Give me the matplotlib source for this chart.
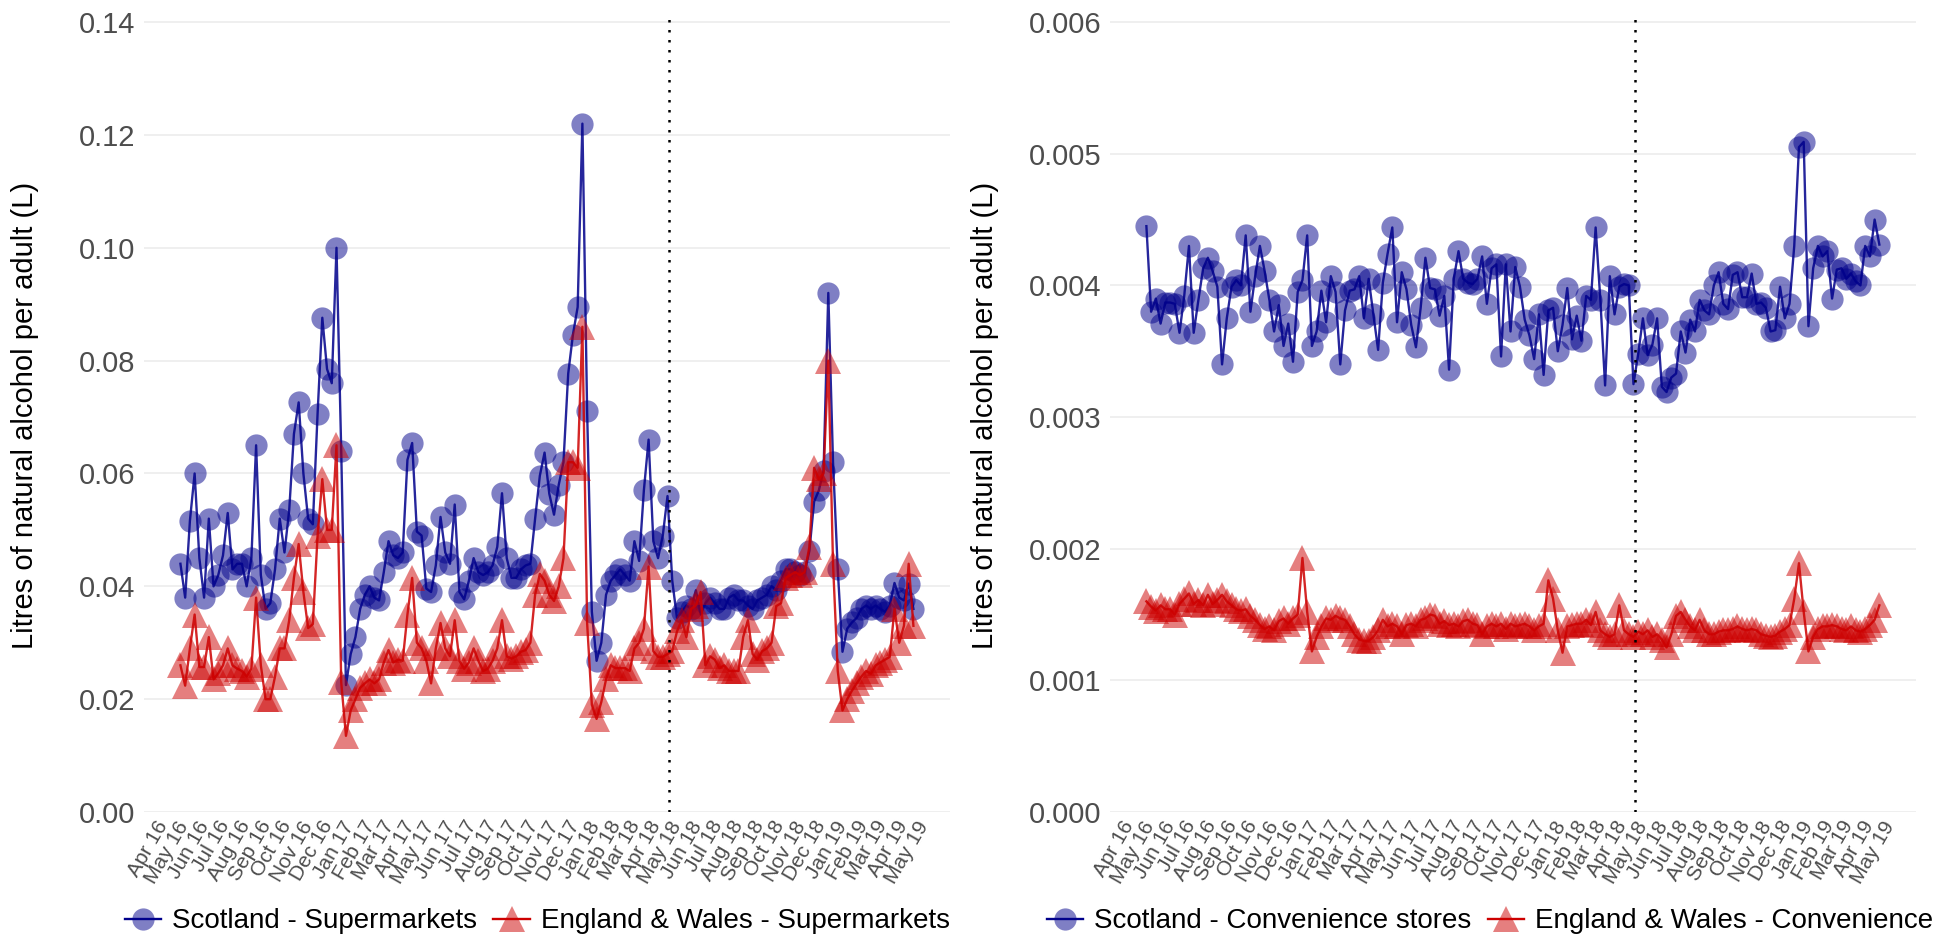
import numpy as np
import pandas as pd
import matplotlib
matplotlib.use("Agg")
import matplotlib.pyplot as plt
from matplotlib.lines import Line2D
from matplotlib.ticker import FormatStrFormatter

plt.rcParams['font.family'] = ['Liberation Sans', 'DejaVu Sans']

# weekly sales, first week starting 8 May 2016
weeks = pd.date_range('2016-05-08', periods=156, freq='7D')
mup_date = pd.Timestamp('2018-05-01')
month_ticks = pd.date_range('2016-04-01', '2019-05-01', freq='MS')
month_labels = [d.strftime('%b %y') for d in month_ticks]

scot_super = [
    0.044, 0.038, 0.0516, 0.060, 0.045, 0.038, 0.052, 0.040, 0.042, 0.0455,
    0.053, 0.043, 0.044, 0.044, 0.040, 0.045, 0.065, 0.042, 0.036, 0.037,
    0.043, 0.052, 0.046, 0.0535, 0.067, 0.0726, 0.060, 0.052, 0.051, 0.0706,
    0.0876, 0.0785, 0.076, 0.100, 0.064, 0.0225, 0.028, 0.031, 0.036, 0.0385,
    0.040, 0.038, 0.0375, 0.0425, 0.048, 0.0455, 0.045, 0.046, 0.0624, 0.0654,
    0.0497, 0.049, 0.0396, 0.039, 0.0437, 0.0523, 0.046, 0.044, 0.0545, 0.039,
    0.0377, 0.041, 0.045, 0.0425, 0.042, 0.0425, 0.0437, 0.047, 0.0565, 0.045,
    0.0415, 0.0415, 0.043, 0.0437, 0.044, 0.052, 0.0596, 0.0637, 0.0564, 0.0527,
    0.058, 0.062, 0.0777, 0.0846, 0.0895, 0.122, 0.071, 0.0355, 0.0268, 0.030,
    0.0385, 0.041, 0.042, 0.043, 0.042, 0.041, 0.048, 0.0445, 0.057, 0.066,
    0.048, 0.045, 0.049, 0.056, 0.041, 0.0344, 0.0355, 0.0366, 0.036, 0.0393,
    0.035, 0.037, 0.038, 0.037, 0.036, 0.036, 0.038, 0.0385, 0.0375, 0.0375,
    0.0366, 0.036, 0.0375, 0.038, 0.0385, 0.040, 0.0393, 0.041, 0.043, 0.043,
    0.0425, 0.042, 0.0425, 0.0463, 0.055, 0.057, 0.0605, 0.092, 0.062, 0.043,
    0.0284, 0.0325, 0.0336, 0.0344, 0.036, 0.0366, 0.036, 0.0366, 0.036, 0.0355,
    0.0366, 0.0406, 0.038, 0.0375, 0.0405, 0.036,
]

ew_super = [
    0.026, 0.0224, 0.029, 0.035, 0.0257, 0.0257, 0.031, 0.0235, 0.0246, 0.026,
    0.029, 0.026, 0.0254, 0.025, 0.024, 0.0254, 0.038, 0.026, 0.020, 0.020,
    0.024, 0.029, 0.029, 0.034, 0.0415, 0.0475, 0.039, 0.0326, 0.0333, 0.049,
    0.059, 0.050, 0.050, 0.065, 0.023, 0.0135, 0.018, 0.020, 0.022, 0.0228,
    0.0235, 0.0228, 0.0235, 0.0265, 0.0287, 0.0265, 0.027, 0.0268, 0.035, 0.0415,
    0.030, 0.029, 0.0268, 0.0228, 0.029, 0.0335, 0.029, 0.0276, 0.034, 0.0268,
    0.0254, 0.0265, 0.029, 0.0268, 0.025, 0.0254, 0.0268, 0.029, 0.034, 0.0276,
    0.0272, 0.0276, 0.0284, 0.0287, 0.030, 0.0385, 0.0422, 0.041, 0.0385, 0.0374,
    0.040, 0.045, 0.062, 0.062, 0.061, 0.086, 0.0335, 0.019, 0.0165, 0.0195,
    0.0235, 0.026, 0.0255, 0.0255, 0.0255, 0.025, 0.029, 0.030, 0.0325, 0.0435,
    0.0285, 0.0275, 0.0275, 0.028, 0.0285, 0.032, 0.034, 0.031, 0.036, 0.0366,
    0.039, 0.026, 0.0276, 0.027, 0.0255, 0.026, 0.025, 0.025, 0.025, 0.031,
    0.034, 0.028, 0.027, 0.0285, 0.029, 0.030, 0.0365, 0.037, 0.0415, 0.042,
    0.0425, 0.042, 0.0425, 0.047, 0.061, 0.059, 0.060, 0.080, 0.044, 0.025,
    0.018, 0.020, 0.0215, 0.0228, 0.024, 0.025, 0.0245, 0.026, 0.0265, 0.027,
    0.0275, 0.036, 0.030, 0.033, 0.044, 0.033,
]

scot_conv = [
    0.00445, 0.00380, 0.00390, 0.00371, 0.00387, 0.00387, 0.00386, 0.00364, 0.00392, 0.00430,
    0.00364, 0.00389, 0.00413, 0.00421, 0.00411, 0.00399, 0.00340, 0.00375, 0.00399, 0.00404,
    0.00400, 0.00438, 0.00380, 0.00407, 0.00430, 0.00411, 0.00389, 0.00365, 0.00385, 0.00354,
    0.00371, 0.00342, 0.00395, 0.00404, 0.00438, 0.00354, 0.00365, 0.00396, 0.00372, 0.00407,
    0.00395, 0.00340, 0.00381, 0.00396, 0.00397, 0.00407, 0.00375, 0.00405, 0.00378, 0.00351,
    0.00402, 0.00424, 0.00444, 0.00372, 0.00410, 0.00397, 0.00370, 0.00353, 0.00383, 0.00421,
    0.00398, 0.00397, 0.00377, 0.00392, 0.00336, 0.00405, 0.00426, 0.00405, 0.00402, 0.00401,
    0.00405, 0.00422, 0.00386, 0.00413, 0.00416, 0.00346, 0.00416, 0.00365, 0.00414, 0.00399,
    0.00374, 0.00362, 0.00344, 0.00378, 0.00332, 0.00381, 0.00383, 0.00350, 0.00370, 0.00398,
    0.00359, 0.00377, 0.00358, 0.00392, 0.00389, 0.00444, 0.00389, 0.00324, 0.00407, 0.00378,
    0.00399, 0.00401, 0.00400, 0.00325, 0.00348, 0.00375, 0.00347, 0.00355, 0.00375, 0.00323,
    0.00319, 0.00330, 0.00333, 0.00365, 0.00349, 0.00374, 0.00365, 0.00389, 0.00381, 0.00378,
    0.00400, 0.00410, 0.00386, 0.00382, 0.00408, 0.00410, 0.00391, 0.00391, 0.00409, 0.00386,
    0.00387, 0.00383, 0.00365, 0.00366, 0.00399, 0.00375, 0.00386, 0.00430, 0.00505, 0.00509,
    0.00369, 0.00413, 0.00430, 0.00422, 0.00426, 0.00390, 0.00412, 0.00413, 0.00405, 0.00409,
    0.00403, 0.00400, 0.00430, 0.00422, 0.00450, 0.00431,
]

ew_conv = [
    0.00160, 0.00156, 0.00153, 0.00157, 0.00154, 0.00154, 0.00150, 0.00158, 0.00162, 0.00166,
    0.00158, 0.00161, 0.00157, 0.00165, 0.00158, 0.00161, 0.00165, 0.00160, 0.00157, 0.00154,
    0.00153, 0.00154, 0.00149, 0.00146, 0.00142, 0.00139, 0.00141, 0.00138, 0.00145, 0.00147,
    0.00143, 0.00147, 0.00150, 0.00193, 0.00152, 0.00122, 0.00133, 0.00141, 0.00147, 0.00146,
    0.00149, 0.00147, 0.00146, 0.00141, 0.00135, 0.00131, 0.00130, 0.00130, 0.00133, 0.00138,
    0.00146, 0.00141, 0.00143, 0.00141, 0.00135, 0.00142, 0.00143, 0.00141, 0.00146, 0.00147,
    0.00150, 0.00149, 0.00143, 0.00145, 0.00142, 0.00143, 0.00141, 0.00145, 0.00146, 0.00143,
    0.00142, 0.00135, 0.00141, 0.00143, 0.00141, 0.00143, 0.00139, 0.00143, 0.00141, 0.00142,
    0.00143, 0.00141, 0.00138, 0.00141, 0.00143, 0.00176, 0.00162, 0.00138, 0.00121, 0.00141,
    0.00142, 0.00143, 0.00143, 0.00146, 0.00142, 0.00152, 0.00138, 0.00135, 0.00133, 0.00135,
    0.00157, 0.00138, 0.00135, 0.00133, 0.00137, 0.00135, 0.00138, 0.00133, 0.00135, 0.00131,
    0.00125, 0.00135, 0.00149, 0.00152, 0.00146, 0.00141, 0.00138, 0.00146, 0.00138, 0.00135,
    0.00135, 0.00137, 0.00138, 0.00138, 0.00139, 0.00141, 0.00139, 0.00138, 0.00139, 0.00138,
    0.00135, 0.00134, 0.00133, 0.00134, 0.00137, 0.00139, 0.00142, 0.00162, 0.00189, 0.00152,
    0.00122, 0.00133, 0.00139, 0.00141, 0.00141, 0.00142, 0.00141, 0.00139, 0.00138, 0.00141,
    0.00138, 0.00137, 0.00139, 0.00142, 0.00146, 0.00157,
]

BLUE = '#00008B'
RED = '#CD0000'
GREY = '#4D4D4D'


def draw_panel(ax, scot, ew, ymax, yticks, fmt, labels, ylab_x, leg_x):
    ax.plot(weeks, scot, 'o', color=BLUE, alpha=0.5, markersize=16, markeredgewidth=0)
    ax.plot(weeks, scot, '-', color=BLUE, linewidth=1.7, alpha=0.85)
    ax.plot(weeks, ew, '^', color=RED, alpha=0.5, markersize=19, markeredgewidth=0)
    ax.plot(weeks, ew, '-', color=RED, linewidth=1.7, alpha=0.85)

    ax.axvline(mup_date, color='black', linestyle=(0, (1, 3)), linewidth=1.8)

    pad = pd.Timedelta(days=54)
    ax.set_xlim(weeks[0] - pad, weeks[-1] + pad)
    ax.set_ylim(0, ymax)

    ax.set_xticks(month_ticks)
    ax.set_xticklabels(month_labels, rotation=60, ha='right', va='top',
                       rotation_mode='anchor', fontsize=15, color=GREY)
    ax.set_yticks(yticks)
    ax.yaxis.set_major_formatter(FormatStrFormatter(fmt))
    ax.tick_params(axis='y', labelsize=21, labelcolor=GREY, length=0, pad=6)
    ax.tick_params(axis='x', length=0, pad=4)

    ax.grid(axis='y', color='#EBEBEB', linewidth=1.1)
    ax.set_axisbelow(True)
    for s in ax.spines.values():
        s.set_visible(False)

    ax.set_ylabel('Litres of natural alcohol per adult (L)', fontsize=21)
    ax.yaxis.set_label_coords(ylab_x, 0.5)

    handles = [
        Line2D([], [], color=BLUE, marker='o', markersize=16, linewidth=1.7,
               markerfacecolor=(0, 0, 0.545, 0.5), markeredgewidth=0),
        Line2D([], [], color=RED, marker='^', markersize=19, linewidth=1.7,
               markerfacecolor=(0.804, 0, 0, 0.5), markeredgewidth=0),
    ]
    fig.legend(handles, labels, loc='center', bbox_to_anchor=(leg_x, 0.024),
               ncol=2, frameon=False, fontsize=20, handlelength=1.3,
               handletextpad=0.4, columnspacing=0.6)


fig = plt.figure(figsize=(19.35, 9.44), dpi=100)
ax1 = fig.add_axes([0.0744, 0.1398, 0.4165, 0.841])
ax2 = fig.add_axes([0.5736, 0.1398, 0.4165, 0.841])

draw_panel(ax1, scot_super, ew_super, 0.1407, np.arange(0, 0.141, 0.02), '%.2f',
           ['Scotland - Supermarkets', 'England & Wales - Supermarkets'], -0.13, 0.2776)
draw_panel(ax2, scot_conv, ew_conv, 0.00603, np.arange(0, 0.00601, 0.001), '%.3f',
           ['Scotland - Convenience stores', 'England & Wales - Convenience'], -0.138, 0.770)

fig.savefig('out.png', dpi=100)
